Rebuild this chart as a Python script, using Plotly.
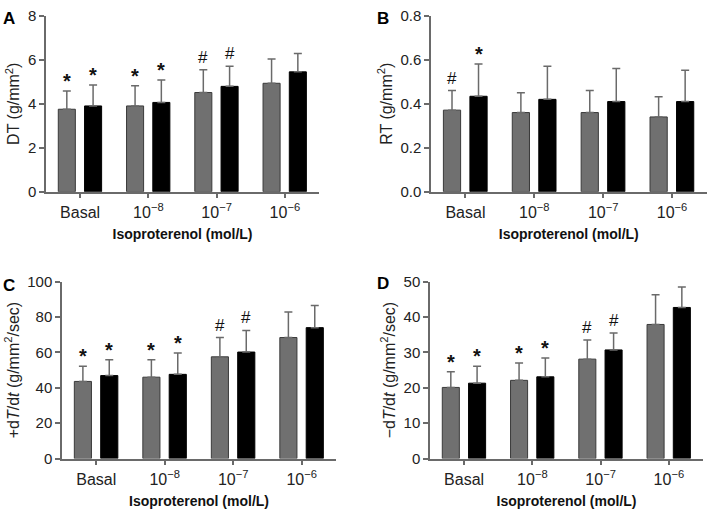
import plotly.graph_objects as go

categories = ["Basal", "10<sup>−8</sup>", "10<sup>−7</sup>", "10<sup>−6</sup>"]

# Panel A: DT (g/mm^2)
dt_gray = [3.75, 3.90, 4.51, 4.93]
dt_gray_err = [0.83, 0.92, 1.04, 1.10]
dt_black = [3.90, 4.06, 4.79, 5.45]
dt_black_err = [0.95, 1.02, 0.92, 0.84]
dt_marks_gray = ["*", "*", "#", ""]
dt_marks_black = ["*", "*", "#", ""]

# Panel B: RT (g/mm^2)
rt_gray = [0.371, 0.36, 0.36, 0.34]
rt_gray_err = [0.089, 0.09, 0.10, 0.092]
rt_black = [0.434, 0.42, 0.41, 0.41]
rt_black_err = [0.147, 0.151, 0.15, 0.142]
rt_marks_gray = ["#", "", "", ""]
rt_marks_black = ["*", "", "", ""]

# Panel C: +dT/dt
pdt_gray = [43.6, 46.0, 57.5, 68.4]
pdt_gray_err = [8.6, 9.8, 10.9, 14.5]
pdt_black = [46.9, 47.6, 60.2, 74.0]
pdt_black_err = [8.9, 12.0, 12.2, 12.5]
pdt_marks_gray = ["*", "*", "#", ""]
pdt_marks_black = ["*", "*", "#", ""]

# Panel D: -dT/dt
ndt_gray = [20.1, 22.1, 28.1, 37.9]
ndt_gray_err = [4.4, 4.9, 5.4, 8.4]
ndt_black = [21.3, 23.1, 30.7, 42.7]
ndt_black_err = [4.8, 5.3, 4.8, 5.8]
ndt_marks_gray = ["*", "*", "#", ""]
ndt_marks_black = ["*", "*", "#", ""]

panels = [
    dict(g=dt_gray, ge=dt_gray_err, b=dt_black, be=dt_black_err, mg=dt_marks_gray, mb=dt_marks_black,
         title="DT (g/mm<sup>2</sup>)", rng=[0, 8], dtick=2, fmt="d", letter="A",
         xd=[46/709, 319/709], yd=[1-189/512, 1-7/512], lx=9, ly=10),
    dict(g=rt_gray, ge=rt_gray_err, b=rt_black, be=rt_black_err, mg=rt_marks_gray, mb=rt_marks_black,
         title="RT (g/mm<sup>2</sup>)", rng=[0, 0.8], dtick=0.2, fmt=".1f", letter="B",
         xd=[431/709, 706.5/709], yd=[1-189/512, 1-7/512], lx=383, ly=10),
    dict(g=pdt_gray, ge=pdt_gray_err, b=pdt_black, be=pdt_black_err, mg=pdt_marks_gray, mb=pdt_marks_black,
         title="+d<i>T</i>/d<i>t</i> (g/mm<sup>2</sup>/sec)", rng=[0, 100], dtick=20, fmt="d", letter="C",
         xd=[62/709, 336/709], yd=[1-465/512, 1-282/512], lx=9, ly=286),
    dict(g=ndt_gray, ge=ndt_gray_err, b=ndt_black, be=ndt_black_err, mg=ndt_marks_gray, mb=ndt_marks_black,
         title="−d<i>T</i>/d<i>t</i> (g/mm<sup>2</sup>/sec)", rng=[0, 50], dtick=10, fmt="d", letter="D",
         xd=[430/709, 703/709], yd=[1-465/512, 1-282/512], lx=383, ly=284),
]

FONT = "Liberation Sans, Arial, sans-serif"
AXC = "#6a6a6a"
ERRC = "#6a6a6a"
GRAY = "#707070"

fig = go.Figure()
layout = dict(
    width=709, height=512, margin=dict(l=0, r=0, t=0, b=0),
    paper_bgcolor="white", plot_bgcolor="white", showlegend=False,
    font=dict(family=FONT, size=15, color="#222"),
    barmode="overlay",
)
annotations = []
G_OFF, B_OFF, W = -0.32, 0.065, 0.25

for i, p in enumerate(panels):
    n = "" if i == 0 else str(i + 1)
    xa, ya = "x" + n, "y" + n
    fig.add_trace(go.Bar(
        x=categories, y=p["g"], xaxis=xa, yaxis=ya, offset=G_OFF, width=W,
        marker=dict(color=GRAY, line=dict(color="#3a3a3a", width=1)),
        error_y=dict(type="data", array=p["ge"], arrayminus=[0]*4, symmetric=False,
                     color=ERRC, thickness=1.5, width=4),
    ))
    fig.add_trace(go.Bar(
        x=categories, y=p["b"], xaxis=xa, yaxis=ya, offset=B_OFF, width=W,
        marker=dict(color="#000000", line=dict(color="#000000", width=1)),
        error_y=dict(type="data", array=p["be"], arrayminus=[0]*4, symmetric=False,
                     color=ERRC, thickness=1.5, width=4),
    ))
    layout["xaxis" + n] = dict(
        domain=p["xd"], anchor=ya, range=[-0.5, 3.5], type="category",
        categoryorder="array", categoryarray=categories,
        showline=True, linecolor=AXC, linewidth=1.5, ticks="outside", ticklen=5,
        tickcolor=AXC, tickwidth=1.5, showgrid=False, zeroline=False,
        tickfont=dict(size=16, color="#222"),
        title=dict(text="<b>Isoproterenol (mol/L)</b>", font=dict(size=14, color="#111"), standoff=10),
    )
    layout["yaxis" + n] = dict(
        domain=p["yd"], anchor=xa, range=p["rng"], dtick=p["dtick"], tickformat=p["fmt"],
        showline=True, linecolor=AXC, linewidth=1.5, ticks="outside", ticklen=5,
        tickcolor=AXC, tickwidth=1.5, showgrid=False, zeroline=False,
        tickfont=dict(size=15, color="#222"),
        title=dict(text=p["title"], font=dict(size=16, color="#222"), standoff=4),
    )
    for j in range(4):
        for val, err, mk, off in ((p["g"][j], p["ge"][j], p["mg"][j], G_OFF),
                                  (p["b"][j], p["be"][j], p["mb"][j], B_OFF)):
            if mk:
                star = mk == "*"
                annotations.append(dict(
                    x=j + off + W/2, y=val + err, xref=xa, yref=ya, text=("<b>*</b>" if star else "#"),
                    showarrow=False, yanchor="bottom", xanchor="center",
                    yshift=(-3 if star else 1),
                    font=dict(size=(20 if star else 17), color="#111", family=FONT),
                ))
    annotations.append(dict(
        x=p["lx"] / 709, y=1 - p["ly"] / 512, xref="paper", yref="paper", text="<b>" + p["letter"] + "</b>",
        showarrow=False, xanchor="center", yanchor="middle", font=dict(size=17, color="#000", family=FONT),
    ))

layout["annotations"] = annotations
fig.update_layout(**layout)
fig.write_html("out.html", config={"displayModeBar": False},
               post_script="document.body.style.margin='0';document.body.style.padding='0';")
